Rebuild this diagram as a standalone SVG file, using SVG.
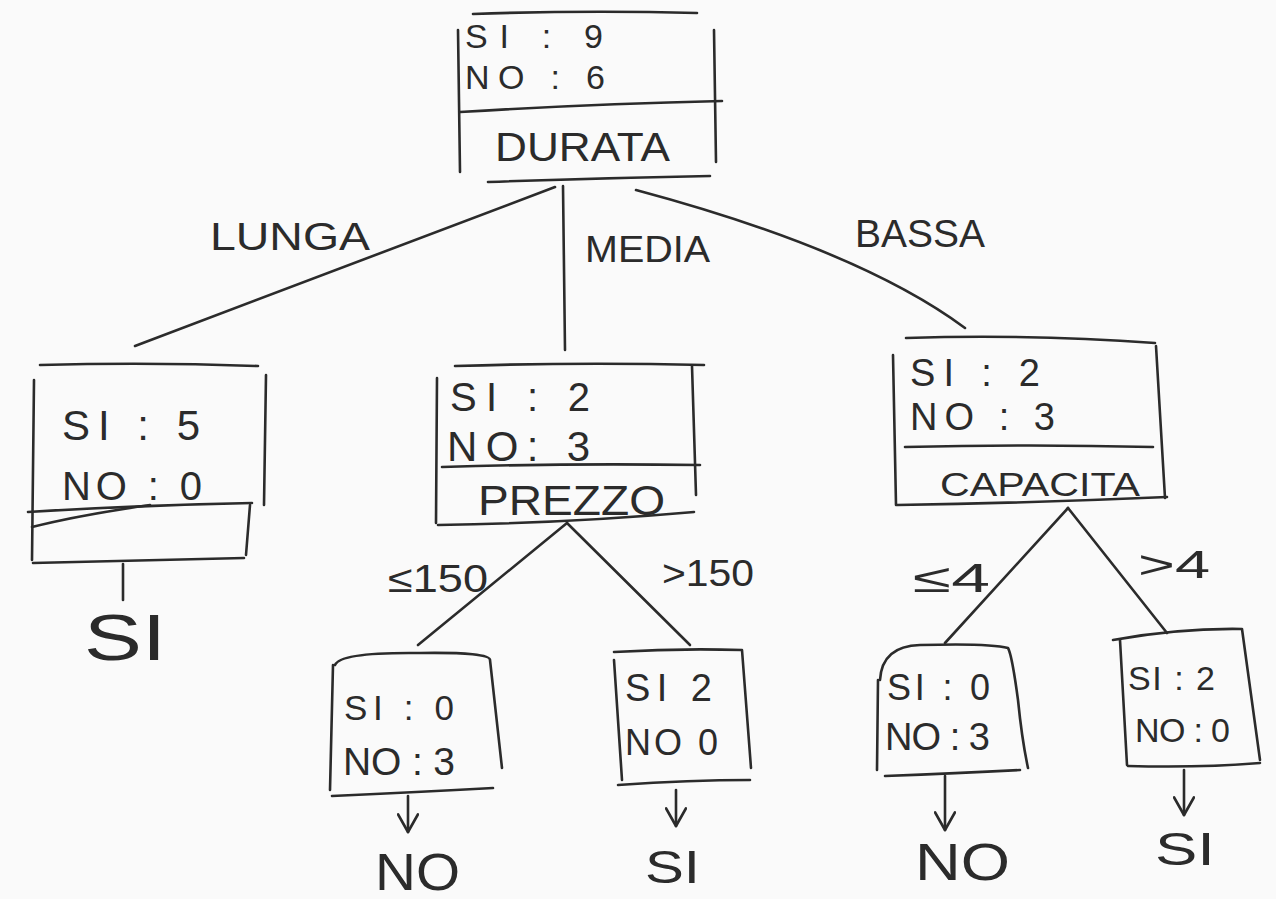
<svg xmlns="http://www.w3.org/2000/svg" width="1276" height="899" viewBox="0 0 1276 899">
  <style>
    .ink { fill: none; stroke: #2b2b2b; stroke-width: 2.6; stroke-linecap: round; stroke-linejoin: round; }
    .t { font-family: "Liberation Sans", "DejaVu Sans", sans-serif; fill: #2b2b2b; font-weight: normal; }
  </style>
  <defs>
    <marker id="vhead" viewBox="0 0 20 20" refX="18" refY="10" markerWidth="22" markerHeight="22" markerUnits="userSpaceOnUse" orient="auto">
      <polyline points="2,1 18,10 2,19" fill="none" stroke="#2b2b2b" stroke-width="2.4" stroke-linecap="round" stroke-linejoin="round"/>
    </marker>
  </defs>
  <rect width="1276" height="899" fill="#fafafa"/>

  <!-- connectors -->
  <g id="connectors" class="ink">
    <path d="M555,187 L135,346"/>
    <path d="M563,186 L565,350"/>
    <path d="M636,190 Q860,250 965,328"/>
    <path d="M567,523 L418,645"/>
    <path d="M567,523 L690,645"/>
    <path d="M1068,508 L945,643"/>
    <path d="M1068,508 L1167,633"/>
    <path d="M123,564 L123,600"/>
    <path d="M408,796 L408,832" marker-end="url(#vhead)"/>
    <path d="M676,790 L676,826" marker-end="url(#vhead)"/>
    <path d="M945,776 L945,830" marker-end="url(#vhead)"/>
    <path d="M1184,770 L1184,815" marker-end="url(#vhead)"/>
  </g>

  <!-- edge labels -->
  <g id="edge-labels">
    <text class="t" x="210" y="250" font-size="38" textLength="160" lengthAdjust="spacingAndGlyphs">LUNGA</text>
    <text class="t" x="585" y="262" font-size="36" textLength="125" lengthAdjust="spacingAndGlyphs">MEDIA</text>
    <text class="t" x="855" y="247" font-size="38" textLength="130" lengthAdjust="spacingAndGlyphs">BASSA</text>
    <text class="t" x="388" y="592" font-size="38" textLength="100" lengthAdjust="spacingAndGlyphs">≤150</text>
    <text class="t" x="662" y="586" font-size="36" textLength="92" lengthAdjust="spacingAndGlyphs">&gt;150</text>
    <text class="t" x="913" y="592" font-size="40" textLength="77" lengthAdjust="spacingAndGlyphs">≤4</text>
    <text class="t" x="1138" y="578" font-size="38" textLength="72" lengthAdjust="spacingAndGlyphs">&gt;4</text>
  </g>

  <!-- root: DURATA -->
  <g id="node-durata">
    <path class="ink" d="M473,14 Q585,10 697,13"/>
    <path class="ink" d="M458,30 L460,172"/>
    <path class="ink" d="M714,30 L716,162"/>
    <path class="ink" d="M460,112 Q590,104 722,101"/>
    <path class="ink" d="M488,182 Q600,178 710,176"/>
    <text class="t" x="465" y="48" font-size="34" textLength="138" lengthAdjust="spacing">SI : 9</text>
    <text class="t" x="465" y="89" font-size="34" textLength="140" lengthAdjust="spacing">NO : 6</text>
    <text class="t" x="495" y="161" font-size="41" textLength="175" lengthAdjust="spacingAndGlyphs">DURATA</text>
  </g>

  <!-- LUNGA branch node -->
  <g id="node-lunga">
    <path class="ink" d="M40,365 Q150,362 258,366"/>
    <path class="ink" d="M34,380 L32,560"/>
    <path class="ink" d="M266,375 L264,505"/>
    <path class="ink" d="M28,512 Q140,505 252,503"/>
    <path class="ink" d="M32,527 Q80,515 150,505"/>
    <path class="ink" d="M250,505 L246,555"/>
    <path class="ink" d="M33,563 Q140,560 244,558"/>
    <text class="t" x="62" y="440" font-size="42" textLength="138" lengthAdjust="spacing">SI : 5</text>
    <text class="t" x="62" y="500" font-size="40" textLength="140" lengthAdjust="spacing">NO : 0</text>
    <text class="t" x="84" y="660" font-size="64" textLength="82" lengthAdjust="spacingAndGlyphs">SI</text>
  </g>

  <!-- MEDIA branch node: PREZZO -->
  <g id="node-prezzo">
    <path class="ink" d="M455,366 Q580,362 704,365"/>
    <path class="ink" d="M437,378 L436,523"/>
    <path class="ink" d="M692,366 L696,495"/>
    <path class="ink" d="M442,467 Q570,463 700,465"/>
    <path class="ink" d="M438,525 Q570,523 694,512"/>
    <text class="t" x="450" y="411" font-size="40" textLength="140" lengthAdjust="spacing">SI :  2</text>
    <text class="t" x="447" y="461" font-size="42" textLength="143" lengthAdjust="spacing">NO: 3</text>
    <text class="t" x="478" y="515" font-size="42" textLength="187" lengthAdjust="spacingAndGlyphs">PREZZO</text>
  </g>

  <!-- BASSA branch node: CAPACITA -->
  <g id="node-capacita">
    <path class="ink" d="M906,338 Q1030,334 1155,343"/>
    <path class="ink" d="M893,355 L896,505"/>
    <path class="ink" d="M1156,346 L1165,498"/>
    <path class="ink" d="M905,447 Q1030,444 1153,447"/>
    <path class="ink" d="M897,505 Q1030,503 1167,497"/>
    <text class="t" x="910" y="386" font-size="38" textLength="130" lengthAdjust="spacing">SI : 2</text>
    <text class="t" x="910" y="430" font-size="38" textLength="145" lengthAdjust="spacing">NO : 3</text>
    <text class="t" x="940" y="496" font-size="34" textLength="200" lengthAdjust="spacingAndGlyphs">CAPACITA</text>
  </g>

  <!-- leaf: PREZZO ≤150 -->
  <g id="node-prezzo-le150">
    <path class="ink" d="M335,665 Q340,652 420,653 Q490,652 490,660 L502,768"/>
    <path class="ink" d="M333,665 L330,790"/>
    <path class="ink" d="M332,796 Q420,792 493,788"/>
    <text class="t" x="344" y="720" font-size="35" textLength="110" lengthAdjust="spacing">SI : 0</text>
    <text class="t" x="343" y="775" font-size="39" textLength="112" lengthAdjust="spacing">NO : 3</text>
    <text class="t" x="375" y="890" font-size="52" textLength="85" lengthAdjust="spacingAndGlyphs">NO</text>
  </g>

  <!-- leaf: PREZZO >150 -->
  <g id="node-prezzo-gt150">
    <path class="ink" d="M614,652 Q680,648 742,650 L751,768"/>
    <path class="ink" d="M614,660 L622,780"/>
    <path class="ink" d="M618,785 Q690,780 750,780"/>
    <text class="t" x="625" y="701" font-size="38" textLength="87" lengthAdjust="spacing">SI 2</text>
    <text class="t" x="625" y="755" font-size="36" textLength="93" lengthAdjust="spacing">NO 0</text>
    <text class="t" x="645" y="883" font-size="46" textLength="55" lengthAdjust="spacingAndGlyphs">SI</text>
  </g>

  <!-- leaf: CAPACITA ≤4 -->
  <g id="node-capacita-le4">
    <path class="ink" d="M880,680 Q882,646 920,645 Q990,643 1008,648 Q1012,655 1018,700 Q1022,740 1028,768"/>
    <path class="ink" d="M878,680 L877,770"/>
    <path class="ink" d="M885,776 Q960,773 1020,770"/>
    <text class="t" x="887" y="700" font-size="36" textLength="103" lengthAdjust="spacing">SI : 0</text>
    <text class="t" x="885" y="750" font-size="38" textLength="105" lengthAdjust="spacing">NO : 3</text>
    <text class="t" x="915" y="880" font-size="52" textLength="95" lengthAdjust="spacingAndGlyphs">NO</text>
  </g>

  <!-- leaf: CAPACITA >4 -->
  <g id="node-capacita-gt4">
    <path class="ink" d="M1113,640 Q1180,628 1242,629 L1260,760"/>
    <path class="ink" d="M1120,640 L1127,765"/>
    <path class="ink" d="M1128,766 Q1200,768 1260,763"/>
    <text class="t" x="1128" y="690" font-size="34" textLength="87" lengthAdjust="spacing">SI : 2</text>
    <text class="t" x="1135" y="742" font-size="34" textLength="95" lengthAdjust="spacing">NO : 0</text>
    <text class="t" x="1155" y="865" font-size="46" textLength="60" lengthAdjust="spacingAndGlyphs">SI</text>
  </g>
</svg>
